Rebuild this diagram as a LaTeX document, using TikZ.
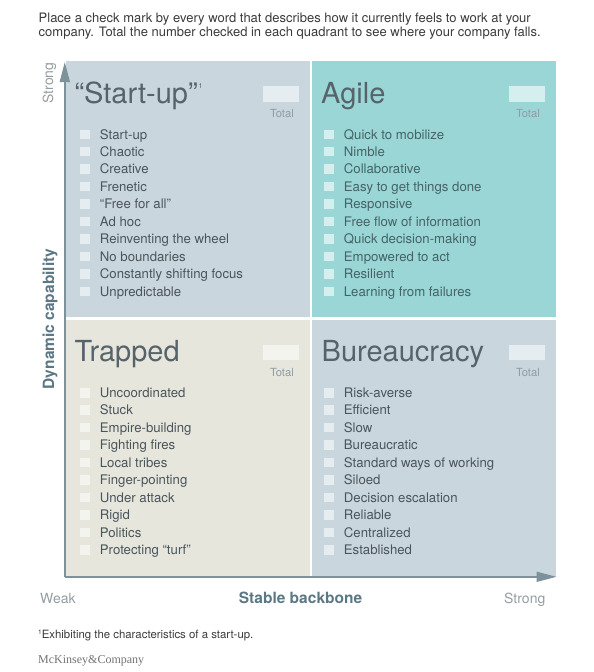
\documentclass[tikz,border=0pt]{standalone}
\usepackage{fontspec}
\setmainfont{TeX Gyre Heros}
\newfontfamily\mckfont{Liberation Serif}
\usetikzlibrary{arrows.meta}
\definecolor{qblue}{HTML}{CAD6DD}
\definecolor{qteal}{HTML}{9BD6D6}
\definecolor{qbeige}{HTML}{E6E6DD}
\definecolor{cbblue}{HTML}{E6EDF0}
\definecolor{cbteal}{HTML}{D5EFEF}
\definecolor{cbbeige}{HTML}{F4F4EF}
\definecolor{itemtxt}{HTML}{4A555B}
\definecolor{agtxt}{HTML}{446367}
\definecolor{titletxt}{HTML}{56636A}
\definecolor{totaltxt}{HTML}{8E9DA4}
\definecolor{axiscol}{HTML}{7D929B}
\definecolor{axislab}{HTML}{5B7784}
\definecolor{endlab}{HTML}{949DA1}
\definecolor{headtxt}{HTML}{3A3A3A}
\tikzset{
  quad/.style={draw=none,inner sep=0pt,minimum width=244.5pt,minimum height=257pt,anchor=north west},
  cbox/.style={draw=none,inner sep=0pt,minimum width=10pt,minimum height=9.5pt},
  totbox/.style={draw=none,inner sep=0pt,minimum width=36pt,minimum height=15.5pt},
  item/.style={inner sep=0pt,anchor=base west,font=\fontsize{13.2}{14}\selectfont,text=itemtxt},
  qtitle/.style={inner sep=0pt,anchor=base west,font=\fontsize{29}{30}\selectfont,text=titletxt},
  totlab/.style={inner sep=0pt,anchor=base east,font=\fontsize{11.2}{12}\selectfont,text=totaltxt},
  axisline/.style={draw=axiscol,line width=1.5pt},
  axistip/.style={-{Triangle[length=20pt,width=10pt]}},
  bigaxlab/.style={inner sep=0pt,font=\bfseries\fontsize{15.5}{16}\selectfont,text=axislab},
  endaxlab/.style={inner sep=0pt,font=\fontsize{14}{15}\selectfont,text=endlab},
  head/.style={inner sep=0pt,anchor=base west,font=\fontsize{13}{14}\selectfont,text=headtxt}
}
\begin{document}
\begin{tikzpicture}[x=1pt,y=-1pt]
\useasboundingbox (0,0) rectangle (594,672);

% header
\node[head] (h1) at (38.5,22) {Place a check mark by every word that describes how it currently feels to work at your};
\node[head] (h2) at (38.5,36.5) {company. Total the number checked in each quadrant to see where your company falls.};

% quadrants
\node[quad,fill=qblue] (su) at (65.5,61) {};
\node[quad,fill=qteal] (ag) at (311.5,61) {};
\node[quad,fill=qbeige] (tr) at (65.5,319.8) {};
\node[quad,fill=qblue] (bu) at (311.5,319.8) {};

% titles
\node[qtitle] (sut) at (74.3,103.3) {“Start-up”\hspace{1pt}{\fontsize{7}{7}\selectfont\raisebox{15pt}{1}}};
\node[qtitle] (agt) at (321,103.3) {Agile};
\node[qtitle] (trt) at (74.3,361.5) {Trapped};
\node[qtitle] (but) at (321.5,361.5) {Bureaucracy};

% total boxes
\node[totbox,fill=cbblue] (sub) at (281,93.8) {};
\node[totbox,fill=cbteal] (agb) at (527,93.8) {};
\node[totbox,fill=cbbeige] (trb) at (281,352.7) {};
\node[totbox,fill=cbblue] (bub) at (527,352.7) {};
\node[totlab] (sul) at (294,117.3) {Total};
\node[totlab] (agl) at (540,117.3) {Total};
\node[totlab] (trl) at (294,376) {Total};
\node[totlab] (bul) at (540,376) {Total};

% lists
\foreach \t [count=\i from 0] in {Start-up,Chaotic,Creative,Frenetic,{“Free for all”},Ad hoc,Reinventing the wheel,No boundaries,Constantly shifting focus,Unpredictable}{
  \node[cbox,fill=cbblue] (suc\i) at (85,139-4.75+17.45*\i) {};
  \node[item] (sui\i) at (99.7,139+17.45*\i) {\t};
}
\foreach \t [count=\i from 0] in {Quick to mobilize,Nimble,Collaborative,Easy to get things done,Responsive,Free flow of information,Quick decision-making,Empowered to act,Resilient,Learning from failures}{
  \node[cbox,fill=cbteal] (agc\i) at (329,139-4.75+17.45*\i) {};
  \node[item,text=agtxt] (agi\i) at (343.7,139+17.45*\i) {\t};
}
\foreach \t [count=\i from 0] in {Uncoordinated,Stuck,Empire-building,Fighting fires,Local tribes,Finger-pointing,Under attack,Rigid,Politics,{Protecting “turf”}}{
  \node[cbox,fill=cbbeige] (trc\i) at (85,397.5-4.75+17.45*\i) {};
  \node[item] (tri\i) at (99.7,397.5+17.45*\i) {\t};
}
\foreach \t [count=\i from 0] in {Risk-averse,Efficient,Slow,Bureaucratic,Standard ways of working,Siloed,Decision escalation,Reliable,Centralized,Established}{
  \node[cbox,fill=cbblue] (buc\i) at (329,397.5-4.75+17.45*\i) {};
  \node[item] (bui\i) at (343.7,397.5+17.45*\i) {\t};
}

% separators
\draw[white,line width=1.6pt] (su.north east) ++(0.75,0) coordinate (sep1) -- ([xshift=0.75pt]su.north east |- tr.south east);
\draw[white,line width=1.3pt] ([yshift=0.65pt]su.south west) -- ([yshift=0.65pt]su.south west -| ag.south east);

% axes
\coordinate (o) at (64.8,576.8);
\coordinate (ytip) at (64.8,62);
\coordinate (xtip) at (556.5,576.8);
\draw[axisline,axistip,fill=axiscol] (o) -- (ytip);
\draw[axisline,axistip,fill=axiscol] (o) -- (xtip);

% axis labels
\node[endaxlab,rotate=90,anchor=base] (ystrong) at (53,83) {Strong};
\node[bigaxlab,rotate=90,anchor=base] (ylab) at (54,319) {Dynamic capability};
\node[endaxlab,anchor=base west] (weak) at (40,603) {Weak};
\node[bigaxlab,anchor=base] (xlab) at (300.5,603.5) {Stable backbone};
\node[endaxlab,anchor=base east] (xstrong) at (545.5,603) {Strong};

% footnote
\node[inner sep=0pt,anchor=base west,font=\fontsize{11.4}{12}\selectfont,text=headtxt] (fn) at (38,638) {{\fontsize{6.5}{7}\selectfont\raisebox{4pt}{1}}Exhibiting the characteristics of a start-up.};
\node[inner sep=0pt,anchor=base west,font=\mckfont\fontsize{12}{13}\selectfont,text=black!55] (mck) at (38,663) {McKinsey\&Company};
\end{tikzpicture}
\end{document}
